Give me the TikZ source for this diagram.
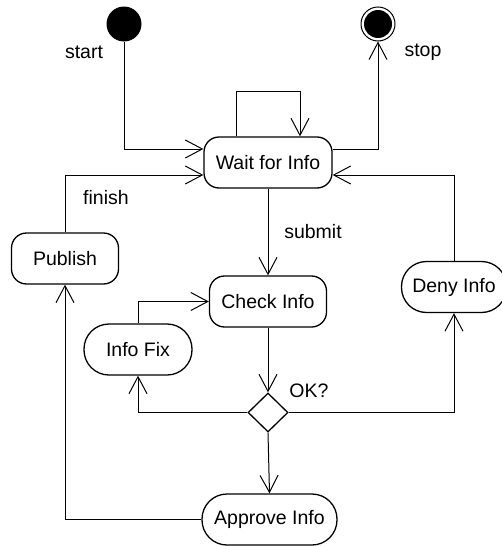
\documentclass[tikz,border=0pt]{standalone}
\usepackage{fontspec}
\setmainfont{Liberation Sans}
\usetikzlibrary{arrows.meta,shapes.geometric,calc}
\begin{document}
\begin{tikzpicture}[x=1pt,y=-1pt,
  font=\fontsize{19.5}{23}\selectfont,
  every node/.style={inner sep=0pt},
  act/.style={draw,line width=1.3pt,rounded corners=15pt,minimum height=51pt},
  pill/.style={draw,line width=1.3pt,rounded corners=25pt,minimum height=51pt},
  conn/.style={line width=1pt,-{Straight Barb[length=17pt,width=18pt,line width=1pt]}},
  initnode/.style={circle,fill=black,minimum size=35pt},
  finalnode/.style={circle,draw,line width=1pt,minimum size=34pt},
  decision/.style={diamond,draw,line width=1.3pt,minimum width=40pt,minimum height=39pt},
  lbl/.style={}
]
\useasboundingbox (0,0) rectangle (501,546);
\node[initnode] (start) at (124,24) {};
\node[finalnode] (stop) at (378,24) {};
\fill (stop.center) circle (14pt);
\node[lbl] (tstart) at (84,52) {start};
\node[lbl] (tstop) at (423,52) {stop};
\node[act,minimum width=128pt] (wait) at (268,162.5) {Wait for Info};
\node[act,minimum width=107pt] (publish) at (65,258.5) {Publish};
\node[act,minimum width=117pt] (check) at (268,301.5) {Check Info};
\node[pill,minimum width=105pt] (deny) at (454,287) {Deny Info};
\node[pill,minimum width=108pt] (fix) at (138,349.5) {Info Fix};
\node[decision] (dec) at (268,412.5) {};
\node[pill,minimum width=135pt] (approve) at (269.5,519.5) {Approve Info};
\node[lbl] (tfinish) at (106,198) {finish};
\node[lbl] (tsubmit) at (313,232) {submit};
\node[lbl] (tok) at (309,391) {OK?};

\draw[conn] (start.south) |- ($(wait.west)+(0,-13.5)$);
\draw[conn] ([xshift=-32pt]wait.north) -- ++(0,-45) -| ([xshift=32pt]wait.north);
\draw[conn] ($(wait.east)+(0,-13.5)$) -| (stop.south);
\draw[conn] (publish.north) |- ($(wait.west)+(0,12.5)$);
\draw[conn] (deny.north) |- ($(wait.east)+(0,12.5)$);
\draw[conn] (wait.south) -- (check.north);
\draw[conn] (fix.north) |- (check.west);
\draw[conn] (check.south) -- (dec.north);
\draw[conn] (dec.west) -| (fix.south);
\draw[conn] (dec.east) -| (deny.south);
\draw[conn] (dec.south) -- (approve.north);
\draw[conn] (approve.west) -| (publish.south);
\end{tikzpicture}
\end{document}
